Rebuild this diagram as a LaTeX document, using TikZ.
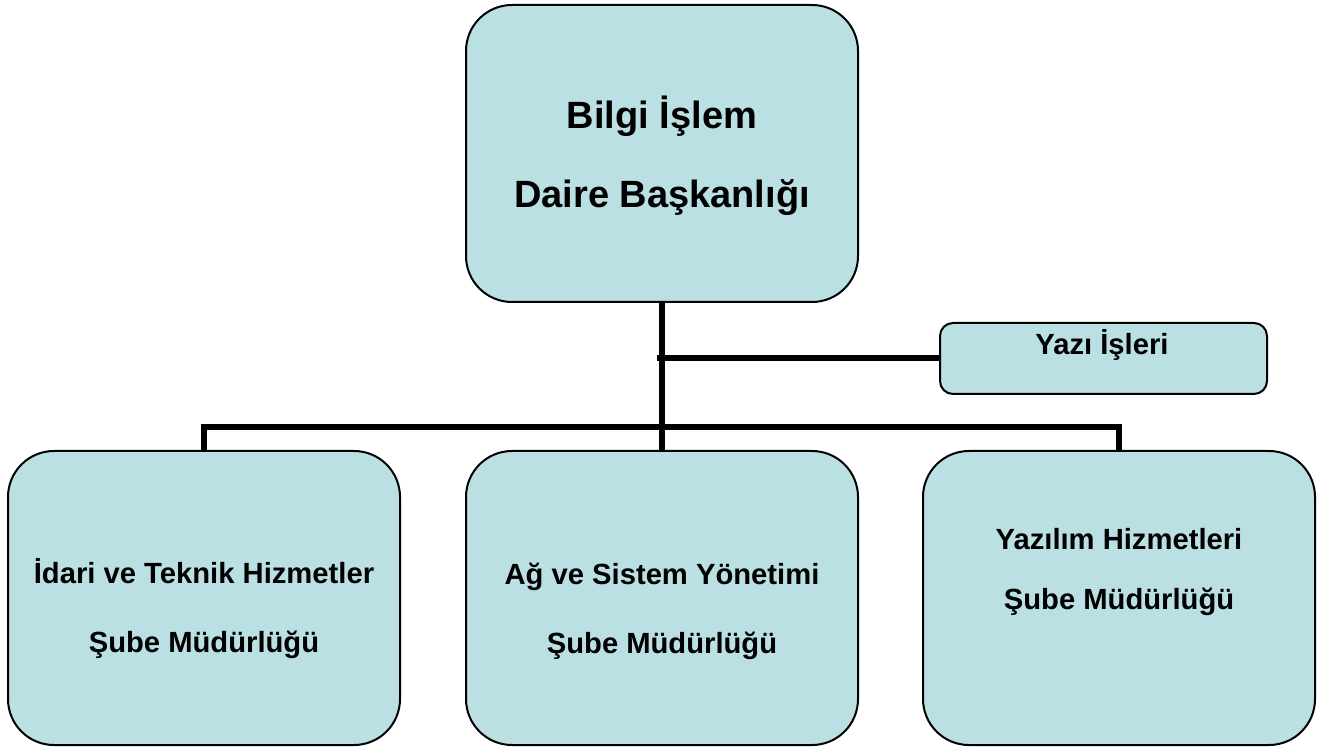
\documentclass[tikz,border=0pt]{standalone}
\usepackage{fontspec}
\setmainfont{Liberation Sans}
\definecolor{boxfill}{RGB}{187,224,227}
\begin{document}
\begin{tikzpicture}[x=0.5pt,y=-0.5pt,
  orgbox/.style={draw=black, line width=1pt, fill=boxfill, rounded corners=23pt, inner sep=0pt},
  smallbox/.style={draw=black, line width=1pt, fill=boxfill, rounded corners=6.5pt, inner sep=0pt},
  conn/.style={draw=black, line width=3pt, line join=miter, line cap=butt},
  bigtxt/.style={anchor=base, font=\bfseries\fontsize{19}{22}\selectfont, inner sep=0pt},
  txt/.style={anchor=base, font=\bfseries\fontsize{14.6}{17}\selectfont, inner sep=0pt}]
\useasboundingbox (0,0) rectangle (1331,747);
% boxes
\node[orgbox, minimum width=196pt, minimum height=148.5pt] (top) at (662,153.5) {};
\node[smallbox, minimum width=163.5pt, minimum height=35.5pt] (yazi) at (1103.5,358.5) {};
\node[orgbox, minimum width=196pt, minimum height=147pt] (left) at (204,598) {};
\node[orgbox, minimum width=196pt, minimum height=147pt] (mid) at (662,598) {};
\node[orgbox, minimum width=196pt, minimum height=147pt] (right) at (1119,598) {};
% connectors
\coordinate (j1) at (657,358.5);
\coordinate (bus) at (662,427);
\draw[conn] (top.south) -- (mid.north);
\draw[conn] (j1) -- (yazi.west);
\draw[conn] (left.north) -- (left.north |- bus) -- (right.north |- bus) -- (right.north);
% texts
\node[bigtxt] (t1) at (662,129) {Bilgi İşlem};
\node[bigtxt] (t2) at (662,208) {Daire Başkanlığı};
\node[txt] (y1) at (1102,354.5) {Yazı İşleri};
\node[txt] (l1) at (204,583) {İdari ve Teknik Hizmetler};
\node[txt] (l2) at (204,652) {Şube Müdürlüğü};
\node[txt] (m1) at (662,584) {Ağ ve Sistem Yönetimi};
\node[txt] (m2) at (662,653) {Şube Müdürlüğü};
\node[txt] (r1) at (1119,549) {Yazılım Hizmetleri};
\node[txt] (r2) at (1119,609) {Şube Müdürlüğü};
\end{tikzpicture}
\end{document}
